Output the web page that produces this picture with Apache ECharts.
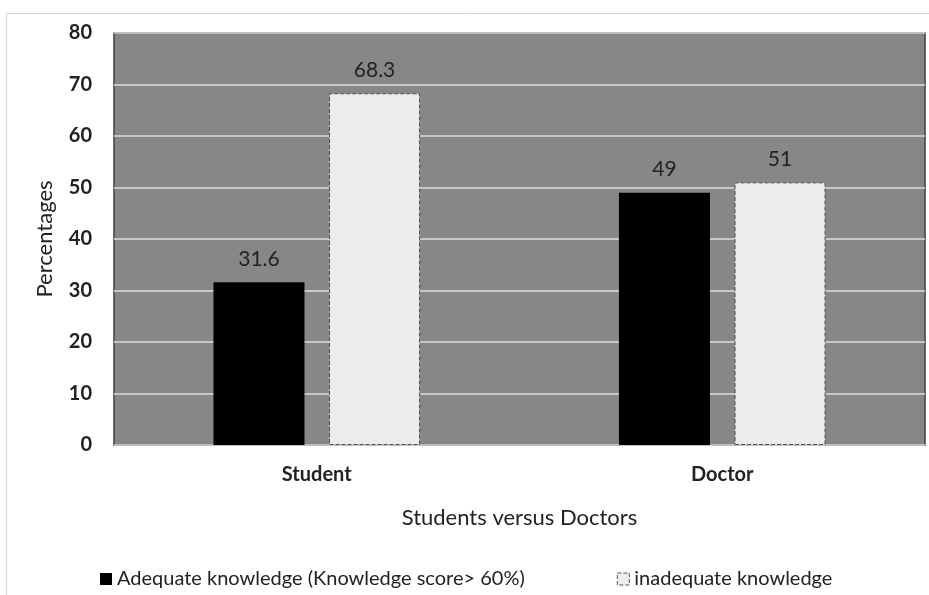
<!DOCTYPE html>
<html>
<head>
<meta charset="utf-8">
<script src="https://cdn.jsdelivr.net/npm/echarts@6/dist/echarts.min.js"></script>
<style>
html,body{margin:0;padding:0;background:#fff;}
#main{width:929px;height:595px;}
</style>
</head>
<body>
<div id="main"></div>
<script>
// data
var categories = ['Student', 'Doctor'];
var adequate = [31.6, 49];
var inadequate = [68.3, 51];
var seriesNames = ['Adequate knowledge (Knowledge score> 60%)', 'inadequate knowledge'];

var font = 'Lato, "Open Sans", sans-serif';

var myChart = echarts.init(document.getElementById('main'));
var option = {
	animation: false,
	backgroundColor: '#fff',
	graphic: [{
		type: 'rect',
		shape: {x: 6.5, y: 13.5, width: 940, height: 600},
		style: {fill: 'none', stroke: '#d4d4d4', lineWidth: 1},
		silent: true
	}],
	grid: {
		left: 114, right: 4, top: 33, bottom: 150,
		show: true,
		backgroundColor: '#878787',
		borderColor: '#404040',
		borderWidth: 1.5
	},
	legend: {
		bottom: 1,
		left: 95,
		itemGap: 92,
		itemWidth: 12, itemHeight: 12,
		icon: 'rect',
		textStyle: {fontFamily: font, fontSize: 20, color: '#222'},
		data: [
			{name: seriesNames[0], itemStyle: {color: '#000', borderWidth: 0}},
			{name: seriesNames[1], itemStyle: {color: '#ececec', borderColor: '#555', borderWidth: 1, borderType: 'dashed'}}
		]
	},
	xAxis: {
		type: 'category',
		data: categories,
		name: 'Students versus Doctors',
		nameLocation: 'middle',
		nameGap: 62,
		nameTextStyle: {fontFamily: font, fontSize: 22, color: '#222'},
		axisLine: {show: false},
		axisTick: {show: false},
		axisLabel: {fontFamily: font, fontSize: 20, fontWeight: 'bold', color: '#222', margin: 20}
	},
	yAxis: {
		type: 'value',
		min: 0, max: 80, interval: 10,
		name: 'Percentages',
		nameLocation: 'middle',
		nameGap: 58,
		nameTextStyle: {fontFamily: font, fontSize: 22, color: '#222'},
		axisLine: {show: false},
		axisTick: {show: false},
		axisLabel: {fontFamily: font, fontSize: 20, fontWeight: 'bold', color: '#222', margin: 22},
		splitLine: {lineStyle: {color: '#dcdcdc', width: 1.5}}
	},
	series: [{
		name: seriesNames[0],
		type: 'bar',
		data: adequate,
		barWidth: 91,
		barGap: '27%',
		itemStyle: {color: '#000'},
		label: {show: true, position: 'top', distance: 13, fontFamily: font, fontSize: 21, color: '#222'}
	}, {
		name: seriesNames[1],
		type: 'bar',
		data: inadequate,
		barWidth: 91,
		itemStyle: {color: '#ececec', borderColor: '#505050', borderWidth: 1, borderType: 'dashed'},
		label: {show: true, position: 'top', distance: 13, fontFamily: font, fontSize: 21, color: '#222'}
	}]
};
myChart.setOption(option);
</script>
</body>
</html>
